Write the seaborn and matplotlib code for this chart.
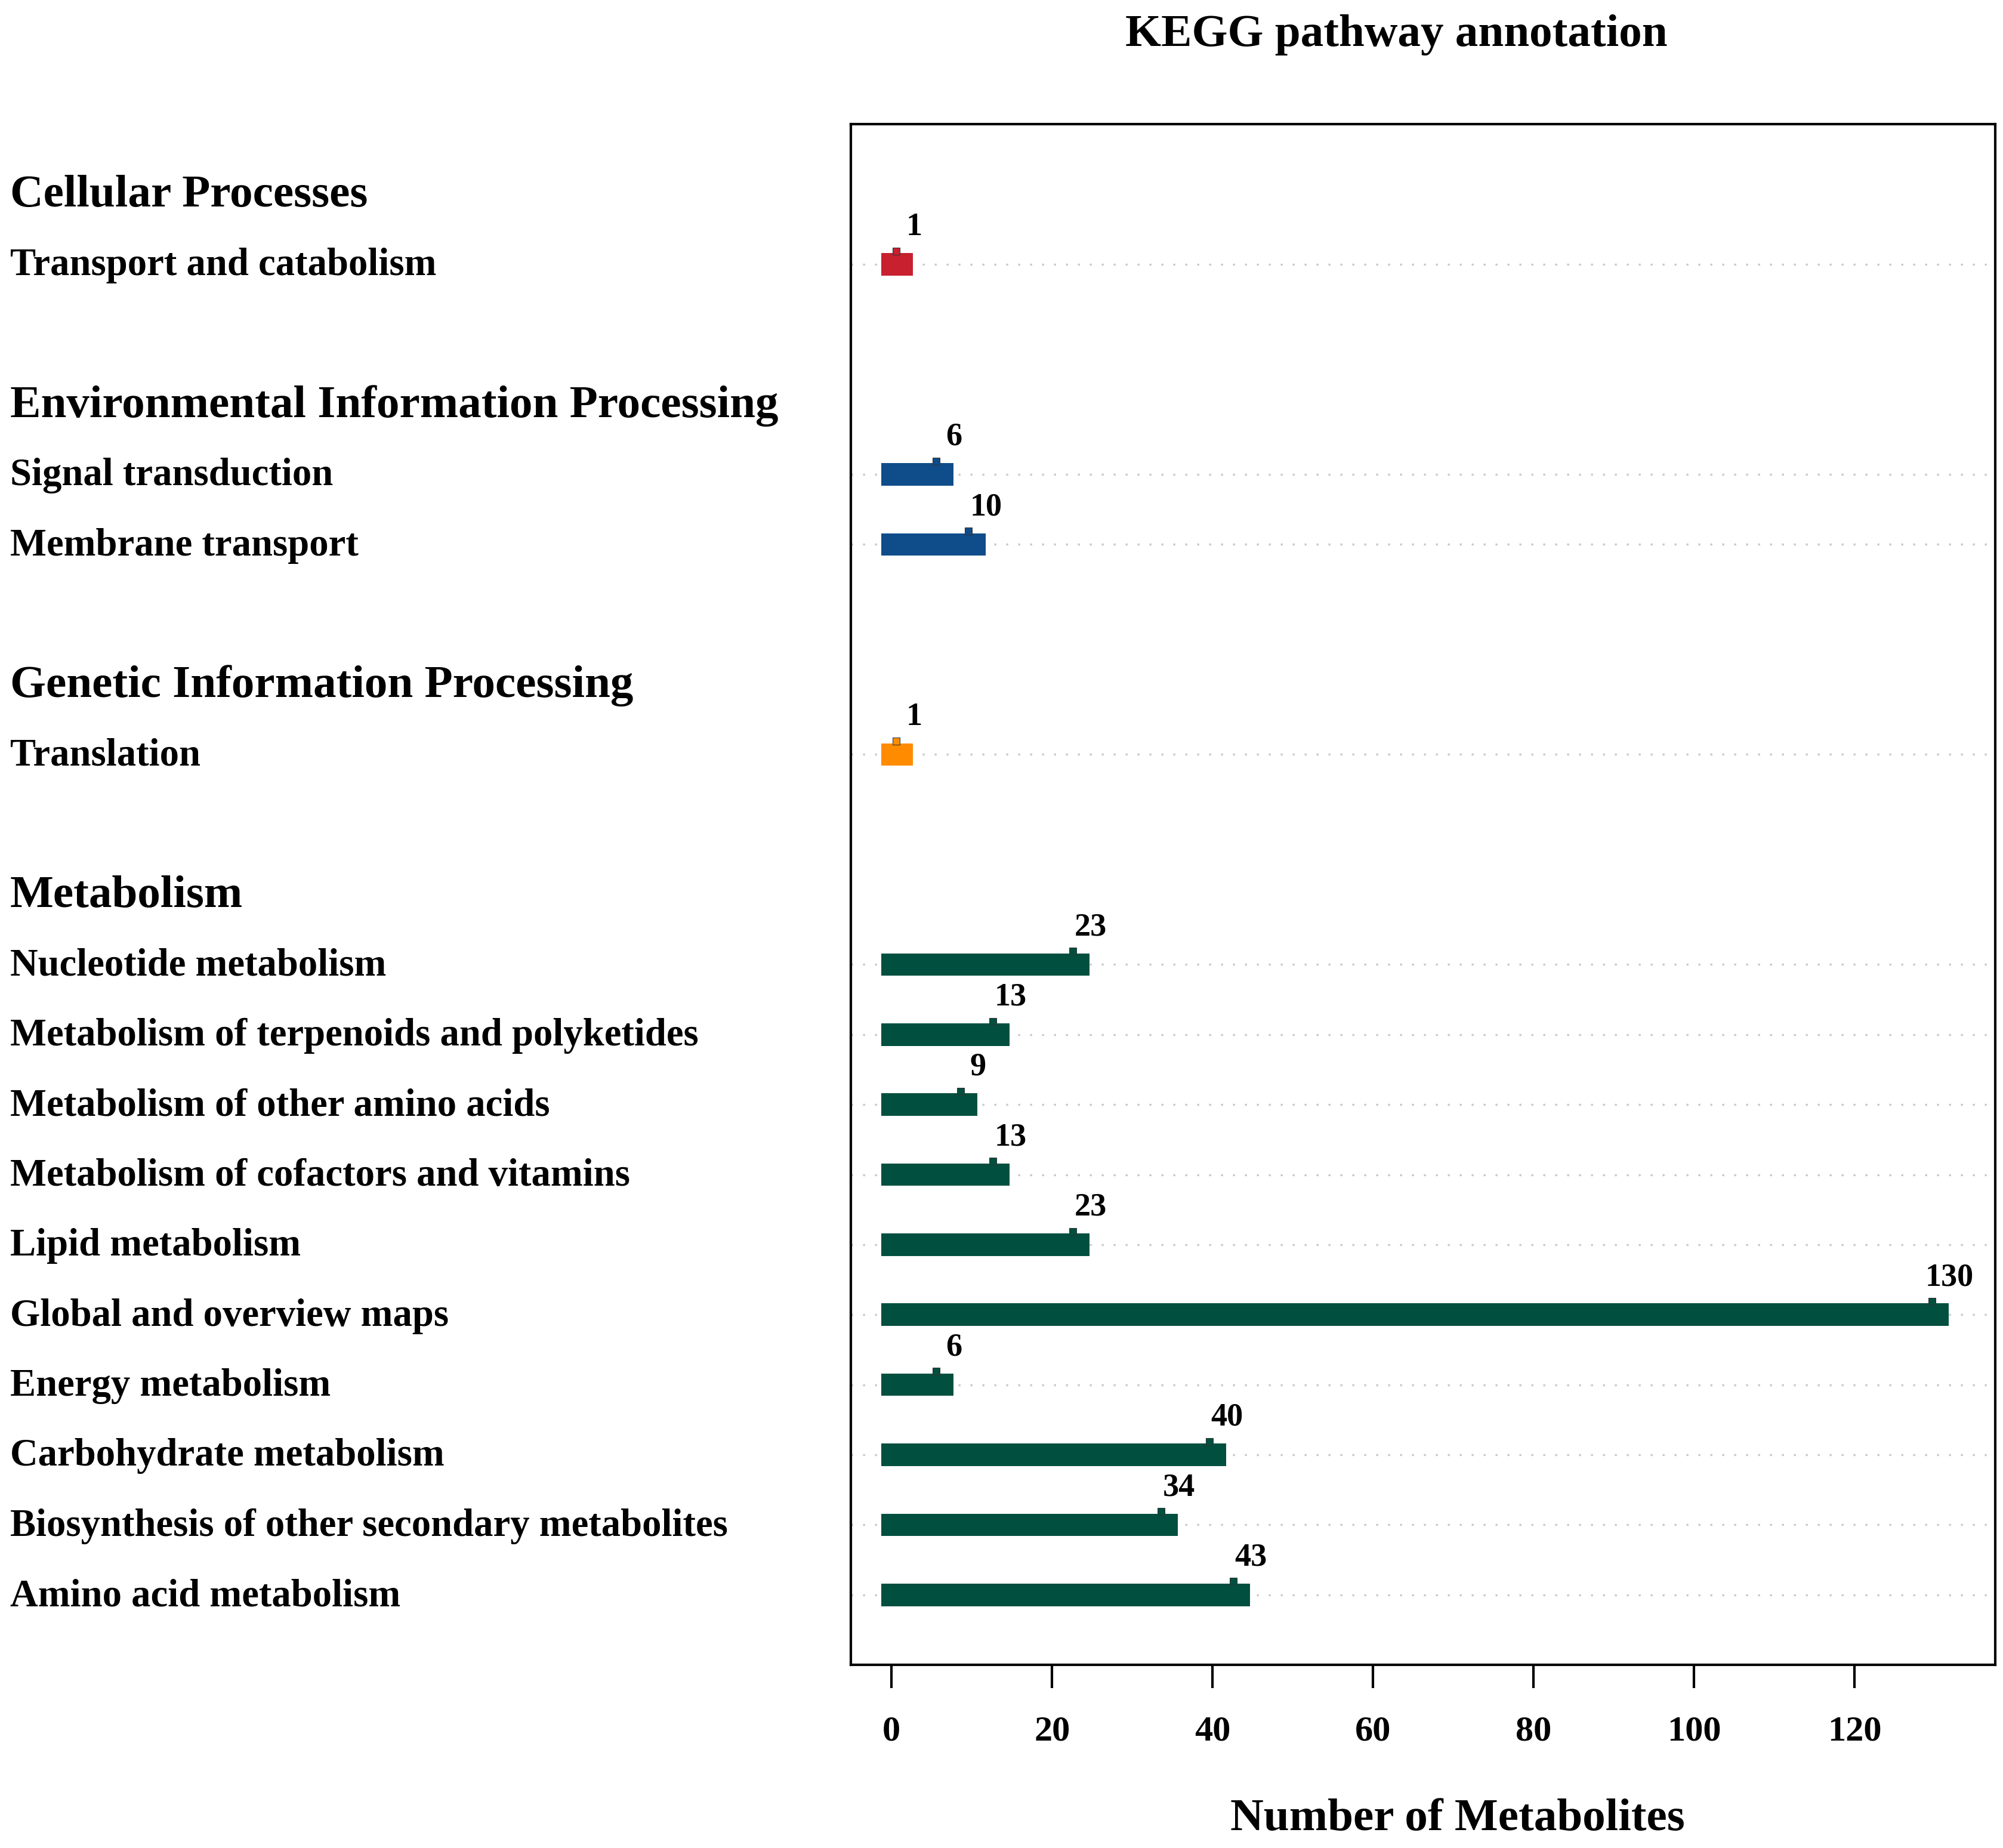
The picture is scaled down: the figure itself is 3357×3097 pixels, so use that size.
import matplotlib
matplotlib.use("Agg")
import matplotlib.pyplot as plt
import matplotlib.transforms as mtransforms
import seaborn as sns
import pandas as pd

# ---------------- data ----------------
groups = ["Cellular Processes",
          "Environmental Information Processing",
          "Genetic Information Processing",
          "Metabolism"]
group_items = [
    ["Transport and catabolism"],
    ["Signal transduction", "Membrane transport"],
    ["Translation"],
    ["Nucleotide metabolism",
     "Metabolism of terpenoids and polyketides",
     "Metabolism of other amino acids",
     "Metabolism of cofactors and vitamins",
     "Lipid metabolism",
     "Global and overview maps",
     "Energy metabolism",
     "Carbohydrate metabolism",
     "Biosynthesis of other secondary metabolites",
     "Amino acid metabolism"],
]
group_values = [
    [1],
    [6, 10],
    [1],
    [23, 13, 9, 13, 23, 130, 6, 40, 34, 43],
]
group_colors = ["#C8202F", "#0F4C8A", "#FF8C00", "#004F3F"]
x_ticks = [0, 20, 40, 60, 80, 100, 120]

# ---------------- layout rows ----------------
header_rows = []
rows, names, vals, grp = [], [], [], []
r = -1
for g, items, vs in zip(groups, group_items, group_values):
    header_rows.append(r)
    r += 1
    for it, v in zip(items, vs):
        rows.append(r)
        names.append(it)
        vals.append(v)
        grp.append(g)
        r += 1
    r += 1

df = pd.DataFrame({"row": rows, "name": names, "value": vals, "group": grp})

# ---------------- style ----------------
sns.set_theme(style="white")
plt.rcParams["font.family"] = ["Liberation Serif", "DejaVu Serif"]
plt.rcParams["font.weight"] = "bold"
plt.rcParams["text.color"] = "black"
plt.rcParams["axes.labelcolor"] = "black"
plt.rcParams["xtick.color"] = "black"
plt.rcParams["ytick.color"] = "black"

fig = plt.figure(figsize=(3357 / 300, 3097 / 300), dpi=300)
ax = fig.add_axes([0.4248, 0.0991, 0.9961 - 0.4248, 0.9328 - 0.0991])

# dotted guide lines at each item row
for y in df["row"]:
    ax.axhline(y, color="#c8c8c8", lw=0.8, ls=(0, (1, 5)), zorder=0)

palette = dict(zip(groups, group_colors))
sns.barplot(data=df, x="value", y="row", hue="group", palette=palette,
            orient="h", native_scale=True, width=0.32, dodge=False,
            legend=False, saturation=1, ax=ax, zorder=2)

# bars in the reference start slightly left of 0 and end slightly past value
for p in ax.patches:
    w = p.get_width()
    p.set_x(-1.3)
    p.set_width(w + 3.0)
    p.set_edgecolor("none")

# small nub marks and value labels
for _, rw in df.iterrows():
    c = palette[rw["group"]]
    ax.plot(rw["value"] - 0.4, rw["row"] - 0.19, marker="s", ms=3.0,
            color=c, mec="#333333", mew=0.25, zorder=3)
    ax.text(rw["value"] + 1.8, rw["row"] - 0.53, str(rw["value"]),
            ha="center", va="center", fontsize=13, fontweight="bold",
            color="black", zorder=4)

ax.set_xlim(-5.06, 137.5)
ax.set_ylim(20, -2)
ax.set_yticks([])
ax.set_ylabel("")
ax.set_xlabel("")
ax.set_xticks(x_ticks)
ax.set_xticklabels([str(t) for t in x_ticks], fontsize=14.5,
                   fontweight="bold", color="black")
ax.tick_params(axis="x", direction="out", length=9.4, width=1.0,
               color="black", pad=11, bottom=True)
for s in ax.spines.values():
    s.set_visible(True)
    s.set_color("black")
    s.set_linewidth(1.0)

# left labels (headers and items)
trans = mtransforms.blended_transform_factory(fig.transFigure, ax.transData)
for g, hr in zip(groups, header_rows):
    ax.text(0.005, hr + 0.02, g, transform=trans, ha="left", va="center",
            fontsize=18.5, fontweight="bold", color="black", clip_on=False)
for _, rw in df.iterrows():
    ax.text(0.005, rw["row"] + 0.02, rw["name"], transform=trans, ha="left",
            va="center", fontsize=15.5, fontweight="bold", color="black",
            clip_on=False)

fig.text(0.697, 0.981, "KEGG pathway annotation", ha="center", va="center",
         fontsize=18.5, fontweight="bold", color="black")
fig.text(0.7277, 0.0155, "Number of Metabolites", ha="center", va="center",
         fontsize=18.5, fontweight="bold", color="black")

fig.savefig("out.png", dpi=300, facecolor="white")
